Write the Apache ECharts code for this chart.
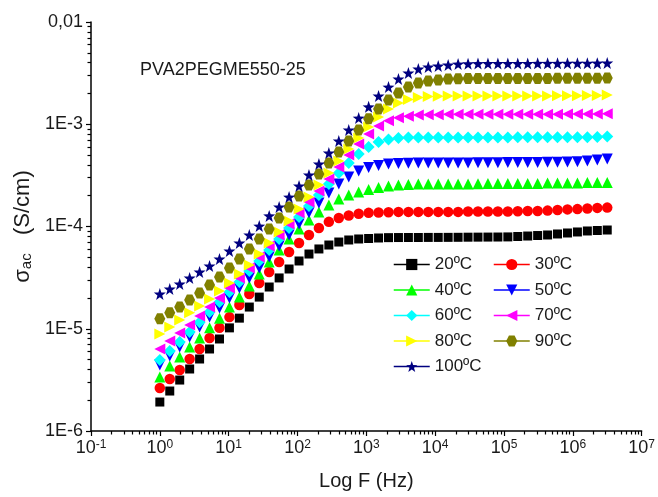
<!DOCTYPE html>
<html>
<head>
<meta charset="utf-8">
<script src="https://cdn.jsdelivr.net/npm/echarts@6/dist/echarts.min.js"></script>
<style>
html,body{margin:0;padding:0;background:#fff;}
#chart{width:658px;height:497px;}
</style>
</head>
<body>
<div id="chart"></div>
<script>
// ---- data ----
const freq = [1, 1.394, 1.945, 2.712, 3.782, 5.275, 7.356, 10.26, 14.31, 19.95, 27.83, 38.81, 54.12, 75.48, 105.3, 146.8, 204.7, 285.5, 398.1, 555.3, 774.4, 1080, 1506, 2100, 2929, 4085, 5697, 7943, 11080, 15450, 21540, 30050, 41900, 58440, 81500, 113700, 158500, 221100, 308300, 430000, 599500, 836100, 1166000, 1626000, 2268000, 3162000];

const s20 = [1.92e-6, 2.46e-6, 3.15e-6, 4.04e-6, 5.06e-6, 6.34e-6, 7.94e-6, 1.02e-5, 1.27e-5, 1.63e-5, 2.04e-5, 2.56e-5, 3.14e-5, 3.84e-5, 4.60e-5, 5.38e-5, 6.03e-5, 6.59e-5, 7.05e-5, 7.38e-5, 7.55e-5, 7.63e-5, 7.72e-5, 7.78e-5, 7.80e-5, 7.81e-5, 7.81e-5, 7.82e-5, 7.82e-5, 7.83e-5, 7.84e-5, 7.86e-5, 7.87e-5, 7.88e-5, 7.89e-5, 7.91e-5, 7.98e-5, 8.07e-5, 8.16e-5, 8.26e-5, 8.45e-5, 8.64e-5, 8.84e-5, 9.04e-5, 9.14e-5, 9.24e-5];
const s30 = [2.63e-6, 3.23e-6, 3.95e-6, 5.06e-6, 6.34e-6, 8.12e-6, 1.02e-5, 1.30e-5, 1.71e-5, 2.19e-5, 2.80e-5, 3.59e-5, 4.50e-5, 5.63e-5, 6.90e-5, 8.26e-5, 9.67e-5, 1.11e-4, 1.21e-4, 1.28e-4, 1.33e-4, 1.36e-4, 1.37e-4, 1.38e-4, 1.39e-4, 1.39e-4, 1.39e-4, 1.39e-4, 1.39e-4, 1.39e-4, 1.39e-4, 1.40e-4, 1.40e-4, 1.40e-4, 1.40e-4, 1.40e-4, 1.41e-4, 1.42e-4, 1.42e-4, 1.43e-4, 1.45e-4, 1.47e-4, 1.48e-4, 1.50e-4, 1.52e-4, 1.53e-4];
const s40 = [3.37e-6, 4.32e-6, 5.29e-6, 6.63e-6, 8.12e-6, 1.02e-5, 1.27e-5, 1.63e-5, 2.04e-5, 2.62e-5, 3.43e-5, 4.50e-5, 5.89e-5, 7.55e-5, 9.45e-5, 1.16e-4, 1.39e-4, 1.62e-4, 1.86e-4, 2.03e-4, 2.18e-4, 2.30e-4, 2.41e-4, 2.49e-4, 2.55e-4, 2.58e-4, 2.60e-4, 2.60e-4, 2.60e-4, 2.61e-4, 2.61e-4, 2.61e-4, 2.62e-4, 2.63e-4, 2.63e-4, 2.63e-4, 2.64e-4, 2.64e-4, 2.64e-4, 2.66e-4, 2.66e-4, 2.66e-4, 2.67e-4, 2.69e-4, 2.69e-4, 2.70e-4];
const s50 = [4.42e-6, 5.41e-6, 6.63e-6, 8.30e-6, 1.04e-5, 1.30e-5, 1.60e-5, 2.00e-5, 2.50e-5, 3.14e-5, 3.93e-5, 5.03e-5, 6.45e-5, 8.26e-5, 1.06e-4, 1.36e-4, 1.70e-4, 2.13e-4, 2.60e-4, 3.05e-4, 3.49e-4, 3.78e-4, 3.95e-4, 4.09e-4, 4.13e-4, 4.16e-4, 4.17e-4, 4.18e-4, 4.18e-4, 4.18e-4, 4.19e-4, 4.19e-4, 4.20e-4, 4.20e-4, 4.21e-4, 4.22e-4, 4.22e-4, 4.23e-4, 4.23e-4, 4.24e-4, 4.26e-4, 4.27e-4, 4.29e-4, 4.37e-4, 4.47e-4, 4.57e-4];
const s60 = [4.95e-6, 6.06e-6, 7.42e-6, 9.29e-6, 1.16e-5, 1.46e-5, 1.83e-5, 2.29e-5, 2.87e-5, 3.67e-5, 4.60e-5, 5.89e-5, 7.55e-5, 9.67e-5, 1.24e-4, 1.59e-4, 2.03e-4, 2.60e-4, 3.34e-4, 4.18e-4, 5.12e-4, 5.99e-4, 6.71e-4, 7.09e-4, 7.34e-4, 7.40e-4, 7.41e-4, 7.42e-4, 7.42e-4, 7.42e-4, 7.43e-4, 7.43e-4, 7.43e-4, 7.44e-4, 7.44e-4, 7.44e-4, 7.45e-4, 7.45e-4, 7.45e-4, 7.46e-4, 7.46e-4, 7.47e-4, 7.47e-4, 7.48e-4, 7.50e-4, 7.60e-4];
const s70 = [6.34e-6, 7.59e-6, 9.09e-6, 1.09e-5, 1.33e-5, 1.63e-5, 2.00e-5, 2.50e-5, 3.14e-5, 3.93e-5, 5.03e-5, 6.45e-5, 8.26e-5, 1.06e-4, 1.36e-4, 1.74e-4, 2.22e-4, 2.91e-4, 3.82e-4, 5.01e-4, 6.41e-4, 8.03e-4, 9.61e-4, 1.08e-3, 1.16e-3, 1.20e-3, 1.23e-3, 1.24e-3, 1.24e-3, 1.25e-3, 1.25e-3, 1.25e-3, 1.25e-3, 1.25e-3, 1.25e-3, 1.25e-3, 1.25e-3, 1.25e-3, 1.25e-3, 1.25e-3, 1.25e-3, 1.26e-3, 1.26e-3, 1.26e-3, 1.26e-3, 1.27e-3];
const s80 = [8.88e-6, 1.04e-5, 1.22e-5, 1.43e-5, 1.67e-5, 1.95e-5, 2.34e-5, 2.80e-5, 3.43e-5, 4.20e-5, 5.38e-5, 6.90e-5, 8.84e-5, 1.13e-4, 1.48e-4, 1.94e-4, 2.55e-4, 3.34e-4, 4.37e-4, 5.73e-4, 7.34e-4, 9.40e-4, 1.18e-3, 1.41e-3, 1.61e-3, 1.75e-3, 1.83e-3, 1.87e-3, 1.88e-3, 1.89e-3, 1.89e-3, 1.89e-3, 1.89e-3, 1.89e-3, 1.89e-3, 1.89e-3, 1.89e-3, 1.89e-3, 1.89e-3, 1.89e-3, 1.90e-3, 1.90e-3, 1.90e-3, 1.91e-3, 1.91e-3, 1.93e-3];
const s90 = [1.25e-5, 1.43e-5, 1.63e-5, 1.91e-5, 2.24e-5, 2.68e-5, 3.21e-5, 3.93e-5, 4.81e-5, 6.03e-5, 7.55e-5, 9.45e-5, 1.21e-4, 1.55e-4, 1.99e-4, 2.55e-4, 3.26e-4, 4.18e-4, 5.35e-4, 6.86e-4, 8.78e-4, 1.13e-3, 1.41e-3, 1.73e-3, 2.02e-3, 2.31e-3, 2.53e-3, 2.65e-3, 2.71e-3, 2.77e-3, 2.79e-3, 2.80e-3, 2.80e-3, 2.80e-3, 2.80e-3, 2.80e-3, 2.80e-3, 2.80e-3, 2.80e-3, 2.80e-3, 2.81e-3, 2.81e-3, 2.81e-3, 2.82e-3, 2.82e-3, 2.83e-3];
const s100 = [2.19e-5, 2.45e-5, 2.74e-5, 3.14e-5, 3.59e-5, 4.11e-5, 4.81e-5, 5.76e-5, 6.90e-5, 8.26e-5, 1.01e-4, 1.27e-4, 1.55e-4, 1.94e-4, 2.49e-4, 3.19e-4, 4.09e-4, 5.23e-4, 6.86e-4, 8.78e-4, 1.15e-3, 1.48e-3, 1.89e-3, 2.31e-3, 2.77e-3, 3.17e-3, 3.47e-3, 3.63e-3, 3.71e-3, 3.80e-3, 3.88e-3, 3.91e-3, 3.92e-3, 3.93e-3, 3.93e-3, 3.93e-3, 3.93e-3, 3.93e-3, 3.94e-3, 3.94e-3, 3.94e-3, 3.95e-3, 3.95e-3, 3.95e-3, 3.96e-3, 3.97e-3];

const seriesNames = ['20ºC', '30ºC', '40ºC', '50ºC', '60ºC', '70ºC', '80ºC', '90ºC', '100ºC'];
const seriesValues = [s20, s30, s40, s50, s60, s70, s80, s90, s100];
const legendCol1 = ['20ºC', '40ºC', '60ºC', '80ºC', '100ºC'];
const legendCol2 = ['30ºC', '50ºC', '70ºC', '90ºC'];
const titleText = 'PVA2PEGME550-25';
const xDecadeExps = [-1, 0, 1, 2, 3, 4, 5, 6];
const yDecadeExps = [-6, -5, -4, -3];
const minorMultipliers = [2, 3, 4, 5, 6, 7, 8, 9];
const X_MIN = 0.1, X_MAX = 1e7, Y_MIN = 1e-6, Y_MAX = 0.01;

// minor tick positions in log10 space, for helper value axes spanning the same decades
const xMinorLog = [];
const yMinorLog = [];
xDecadeExps.forEach(function (e) { minorMultipliers.forEach(function (m) { xMinorLog.push(e + Math.log10(m)); }); });
yDecadeExps.forEach(function (e) { minorMultipliers.forEach(function (m) { yMinorLog.push(e + Math.log10(m)); }); });

// ---- styles ----
const FONT = '"Liberation Sans", Arial, sans-serif';
const TXT = '#1a1a1a';
const HEX = 'path://M-10,0 L-5,-8.66 L5,-8.66 L10,0 L5,8.66 L-5,8.66 Z';
const STAR = 'path://M0,-10 L2.351,-3.236 L9.511,-3.09 L3.804,1.236 L5.878,8.09 L0,4 L-5.878,8.09 L-3.804,1.236 L-9.511,-3.09 L-2.351,-3.236 Z';
const styles = [
  { color: '#000000', symbol: 'rect', size: 9, rotate: 0 },
  { color: '#ff0000', symbol: 'circle', size: 10.5, rotate: 0 },
  { color: '#00ff00', symbol: 'triangle', size: 11, rotate: 0 },
  { color: '#0000ff', symbol: 'triangle', size: 11, rotate: 180 },
  { color: '#00ffff', symbol: 'diamond', size: 12, rotate: 0 },
  { color: '#ff00ff', symbol: 'triangle', size: 11, rotate: 90 },
  { color: '#ffff00', symbol: 'triangle', size: 11, rotate: -90 },
  { color: '#808000', symbol: HEX, size: 11, rotate: 0 },
  { color: '#000080', symbol: STAR, size: 12, rotate: 0 }
];

const series = seriesNames.map(function (name, k) {
  const st = styles[k];
  return {
    name: name,
    type: 'line',
    xAxisIndex: 0,
    yAxisIndex: 0,
    data: freq.map(function (f, i) { return [f, seriesValues[k][i]]; }),
    symbol: st.symbol,
    symbolSize: st.size,
    symbolRotate: st.rotate,
    showSymbol: true,
    color: st.color,
    itemStyle: { color: st.color },
    lineStyle: { color: st.color, width: 1.5, opacity: 0 },
    animation: false
  };
});

const legendBase = {
  orient: 'vertical',
  top: 256,
  padding: 0,
  itemGap: 8.5,
  itemWidth: 36,
  itemHeight: 14,
  lineStyle: { width: 1.5, opacity: 1 },
  textStyle: { fontSize: 17, lineHeight: 17, color: TXT, fontFamily: FONT }
};

const minorAxisCommon = {
  type: 'value',
  gridIndex: 0,
  axisLine: { show: false, onZero: false },
  axisLabel: { show: false },
  splitLine: { show: false },
  silent: true
};

const option = {
  backgroundColor: '#ffffff',
  animation: false,
  title: {
    text: titleText, left: 140, top: 61, padding: 0,
    textStyle: { fontSize: 18, fontWeight: 'normal', color: TXT, fontFamily: FONT }
  },
  legend: [
    Object.assign({}, legendBase, { left: 393, data: legendCol1 }),
    Object.assign({}, legendBase, { left: 493, data: legendCol2 })
  ],
  grid: { left: 91, right: 15, top: 22, bottom: 66, containLabel: false },
  xAxis: [{
    type: 'log', logBase: 10, min: X_MIN, max: X_MAX, interval: 1, position: 'bottom',
    name: 'Log F (Hz)', nameLocation: 'middle', nameGap: 40,
    nameTextStyle: { fontSize: 20, color: TXT, fontFamily: FONT },
    axisLine: { show: true, onZero: false, lineStyle: { color: '#000', width: 1.5 } },
    axisTick: { show: true, inside: false, length: 5, lineStyle: { color: '#000', width: 1.2 } },
    splitLine: { show: false },
    axisLabel: {
      margin: 8, color: TXT, fontFamily: FONT, fontSize: 18,
      formatter: function (v) { return '10{s|' + Math.round(Math.log10(v)) + '}'; },
      rich: { s: { fontSize: 12, verticalAlign: 'top', lineHeight: 12, color: TXT, fontFamily: FONT } }
    }
  }, Object.assign({}, minorAxisCommon, {
    position: 'bottom', offset: 0, min: -1, max: 7,
    axisTick: { show: true, inside: false, length: 3.5, customValues: xMinorLog, lineStyle: { color: '#000', width: 1.2 } }
  })],
  yAxis: [{
    type: 'log', logBase: 10, min: Y_MIN, max: Y_MAX, interval: 1, position: 'left',
    name: 'σ{sub|ac}   (S/cm)', nameLocation: 'middle', nameGap: 42, nameRotate: 90,
    nameTextStyle: {
      fontSize: 22, color: TXT, fontFamily: FONT,
      rich: { sub: { fontSize: 15, verticalAlign: 'bottom', color: TXT, fontFamily: FONT } }
    },
    axisLine: { show: true, onZero: false, lineStyle: { color: '#000', width: 1.5 } },
    axisTick: { show: true, inside: false, length: 5, lineStyle: { color: '#000', width: 1.2 } },
    splitLine: { show: false },
    axisLabel: {
      margin: 8, color: TXT, fontFamily: FONT, fontSize: 18,
      formatter: function (v) {
        const e = Math.round(Math.log10(v));
        return e === -2 ? '0,01' : '1E' + e;
      }
    }
  }, Object.assign({}, minorAxisCommon, {
    position: 'left', offset: 0, min: -6, max: -2,
    axisTick: { show: true, inside: false, length: 3.5, customValues: yMinorLog, lineStyle: { color: '#000', width: 1.2 } }
  })],
  series: series
};

const chart = echarts.init(document.getElementById('chart'), null, { renderer: 'canvas' });
chart.setOption(option);
</script>
</body>
</html>
